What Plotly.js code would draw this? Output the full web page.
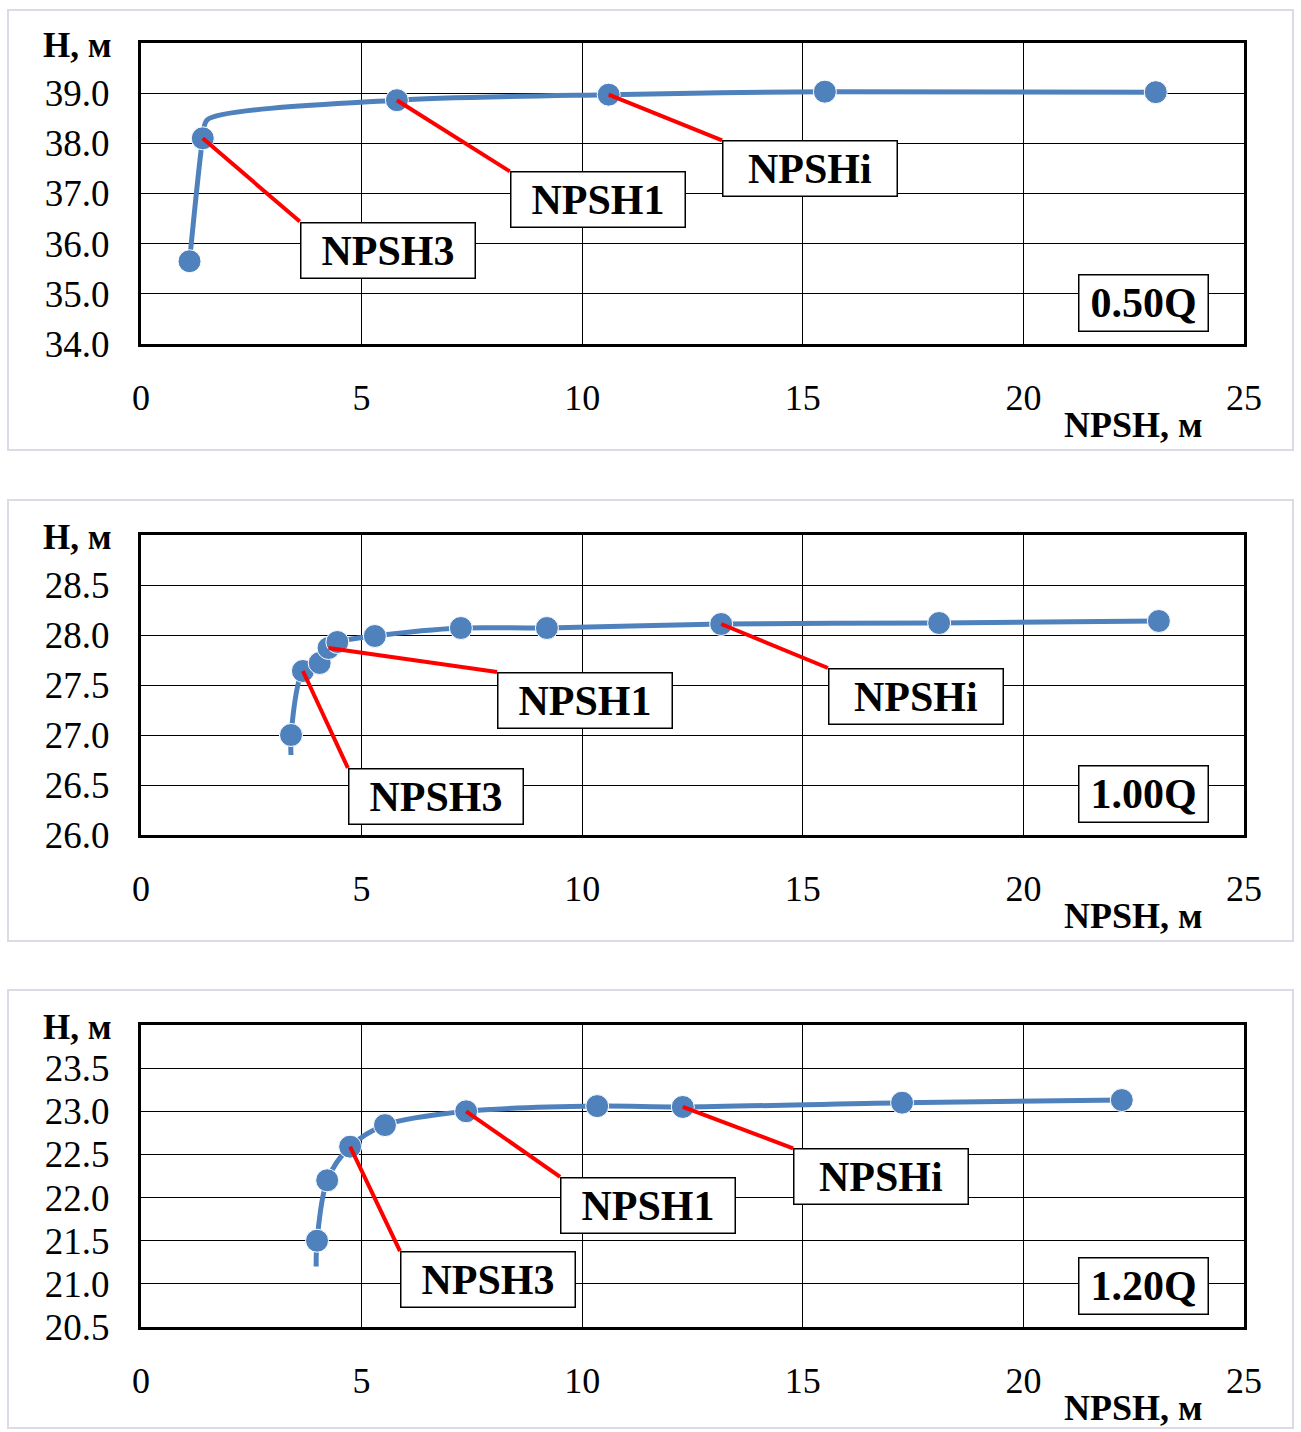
<!DOCTYPE html>
<html><head><meta charset="utf-8">
<script src="https://cdn.plot.ly/plotly-3.0.1.min.js"></script>
<style>html,body{margin:0;padding:0;background:#fff}</style>
</head><body>
<div id="chart" style="width:1301px;height:1432px"></div>
<script>
// ---- data ----
const x050 = [1.1, 1.4, 1.5, 5.8, 10.6, 15.5, 23.0];
const h050 = [35.65, 38.1, 38.47, 38.86, 38.97, 39.03, 39.02];
const m050 = [1, 1, 0, 1, 1, 1, 1];

const x100 = [3.4, 3.4, 3.67, 4.05, 4.25, 4.45, 5.3, 7.25, 9.2, 13.15, 18.09, 23.07];
const h100 = [26.8, 27.0, 27.64, 27.72, 27.87, 27.93, 27.99, 28.07, 28.07, 28.11, 28.12, 28.14];
const m100 = [0, 1, 1, 1, 1, 1, 1, 1, 1, 1, 1, 1];

const x120 = [3.97, 3.99, 4.22, 4.74, 5.53, 7.37, 10.34, 12.28, 17.25, 22.23];
const h120 = [21.2, 21.5, 22.2, 22.59, 22.84, 23.0, 23.06, 23.05, 23.1, 23.13];
const m120 = [0, 1, 1, 1, 1, 1, 1, 1, 1, 1];

const flowLabels = ['0.50Q', '1.00Q', '1.20Q'];
const xTicks = [0, 5, 10, 15, 20, 25];
const yTicks050 = [34, 35, 36, 37, 38, 39];
const yTicks100 = [26, 26.5, 27, 27.5, 28, 28.5];
const yTicks120 = [20.5, 21, 21.5, 22, 22.5, 23, 23.5];
const yTitle = 'Н, м';
const xTitle = 'NPSH, м';

// label: [text, point index, box left (x), box top (y)]
const labels050 = [['NPSH3', 1, 3.60, 36.44], ['NPSH1', 3, 8.36, 37.44], ['NPSHi', 4, 13.17, 38.06]];
const labels100 = [['NPSH3', 2, 4.69, 26.67], ['NPSH1', 4, 8.07, 27.63], ['NPSHi', 9, 15.57, 27.67]];
const labels120 = [['NPSH3', 3, 5.87, 21.38], ['NPSH1', 5, 9.50, 22.24], ['NPSHi', 7, 14.78, 22.57]];

// ---- layout ----
const W = 1301, H = 1432;
const FONT = 'Liberation Serif, Times New Roman, serif';
const panels = [
  {x: x050, y: h050, m: m050, smooth: 0.7, ticks: yTicks050, range: [34, 40], top: 43, bot: 344, frame: [10, 450], labels: labels050, q: flowLabels[0]},
  {x: x100, y: h100, m: m100, smooth: 0.8, ticks: yTicks100, range: [26, 29], top: 535, bot: 835, frame: [500, 941], labels: labels100, q: flowLabels[1]},
  {x: x120, y: h120, m: m120, smooth: 0.9, ticks: yTicks120, range: [20.5, 24], top: 1025, bot: 1327, frame: [990, 1428], labels: labels120, q: flowLabels[2]}
];
const PL = 141, PR = 1244;
const px = v => v / W, py = v => 1 - v / H;

const data = [], shapes = [], annotations = [];
const layout = {
  width: W, height: H, margin: {l: 0, r: 0, t: 0, b: 0},
  paper_bgcolor: '#fff', plot_bgcolor: '#fff', showlegend: false,
  font: {family: FONT, color: '#000'}
};

panels.forEach((p, i) => {
  const n = i === 0 ? '' : String(i + 1);
  const xa = 'x' + n, ya = 'y' + n;
  data.push({
    x: p.x, y: p.y, xaxis: xa, yaxis: ya, type: 'scatter', mode: 'lines+markers',
    line: {color: '#4f81bd', width: 5, shape: 'spline', smoothing: p.smooth},
    marker: {color: '#4f81bd', opacity: 1, size: p.m.map(v => v ? 23 : 0)},
    hoverinfo: 'skip', cliponaxis: false
  });
  layout['xaxis' + n] = {
    domain: [px(PL), px(PR)], anchor: ya, range: [0, 25],
    tickvals: xTicks, ticktext: xTicks.map(String),
    ticks: 'outside', ticklen: 20, tickcolor: 'rgba(0,0,0,0)',
    tickfont: {family: FONT, size: 36, color: '#000'},
    showgrid: true, gridcolor: '#000', gridwidth: 1,
    showline: true, linecolor: '#000', linewidth: 3, mirror: true,
    zeroline: false, fixedrange: true
  };
  layout['yaxis' + n] = {
    domain: [py(p.bot), py(p.top)], anchor: xa, range: p.range,
    tickvals: p.ticks, ticktext: p.ticks.map(v => v.toFixed(1)),
    ticks: 'outside', ticklen: 21, tickcolor: 'rgba(0,0,0,0)',
    tickfont: {family: FONT, size: 37, color: '#000'},
    showgrid: true, gridcolor: '#000', gridwidth: 1,
    showline: true, linecolor: '#000', linewidth: 3, mirror: true,
    zeroline: false, fixedrange: true
  };
  // chart frame
  shapes.push({type: 'rect', xref: 'paper', yref: 'paper', x0: px(8), x1: px(1293),
    y0: py(p.frame[1]), y1: py(p.frame[0]), line: {color: '#d9dce4', width: 2}, layer: 'below'});
  // leader lines + label boxes
  p.labels.forEach(l => {
    shapes.push({type: 'line', xref: xa, yref: ya, x0: p.x[l[1]], y0: p.y[l[1]], x1: l[2], y1: l[3],
      line: {color: '#ff0000', width: 4}, layer: 'above'});
    annotations.push({xref: xa, yref: ya, x: l[2], y: l[3], xanchor: 'left', yanchor: 'top',
      text: '<b>' + l[0] + '</b>', showarrow: false, font: {family: FONT, size: 42, color: '#000'},
      bgcolor: '#fff', bordercolor: '#000', borderwidth: 1.5, borderpad: 0, width: 173, height: 54});
  });
  // flow label
  annotations.push({xref: 'paper', yref: 'paper', x: px(1143.5), y: py(p.top + (p.bot - p.top) * 0.864),
    xanchor: 'center', yanchor: 'middle', text: '<b>' + p.q + '</b>', showarrow: false,
    font: {family: FONT, size: 42, color: '#000'}, bgcolor: '#fff', bordercolor: '#000',
    borderwidth: 1.5, borderpad: 0, width: 128, height: 55});
  // axis titles
  annotations.push({xref: 'paper', yref: 'paper', x: px(77), y: py(p.top + 2), xanchor: 'center', yanchor: 'middle',
    text: '<b>' + yTitle + '</b>', showarrow: false, font: {family: FONT, size: 35, color: '#000'}});
  annotations.push({xref: 'paper', yref: 'paper', x: px(1133), y: py(p.bot + 81), xanchor: 'center', yanchor: 'middle',
    text: '<b>' + xTitle + '</b>', showarrow: false, font: {family: FONT, size: 36, color: '#000'}});
});
layout.shapes = shapes;
layout.annotations = annotations;
Plotly.newPlot('chart', data, layout, {displayModeBar: false, staticPlot: true});
</script>
</body></html>
